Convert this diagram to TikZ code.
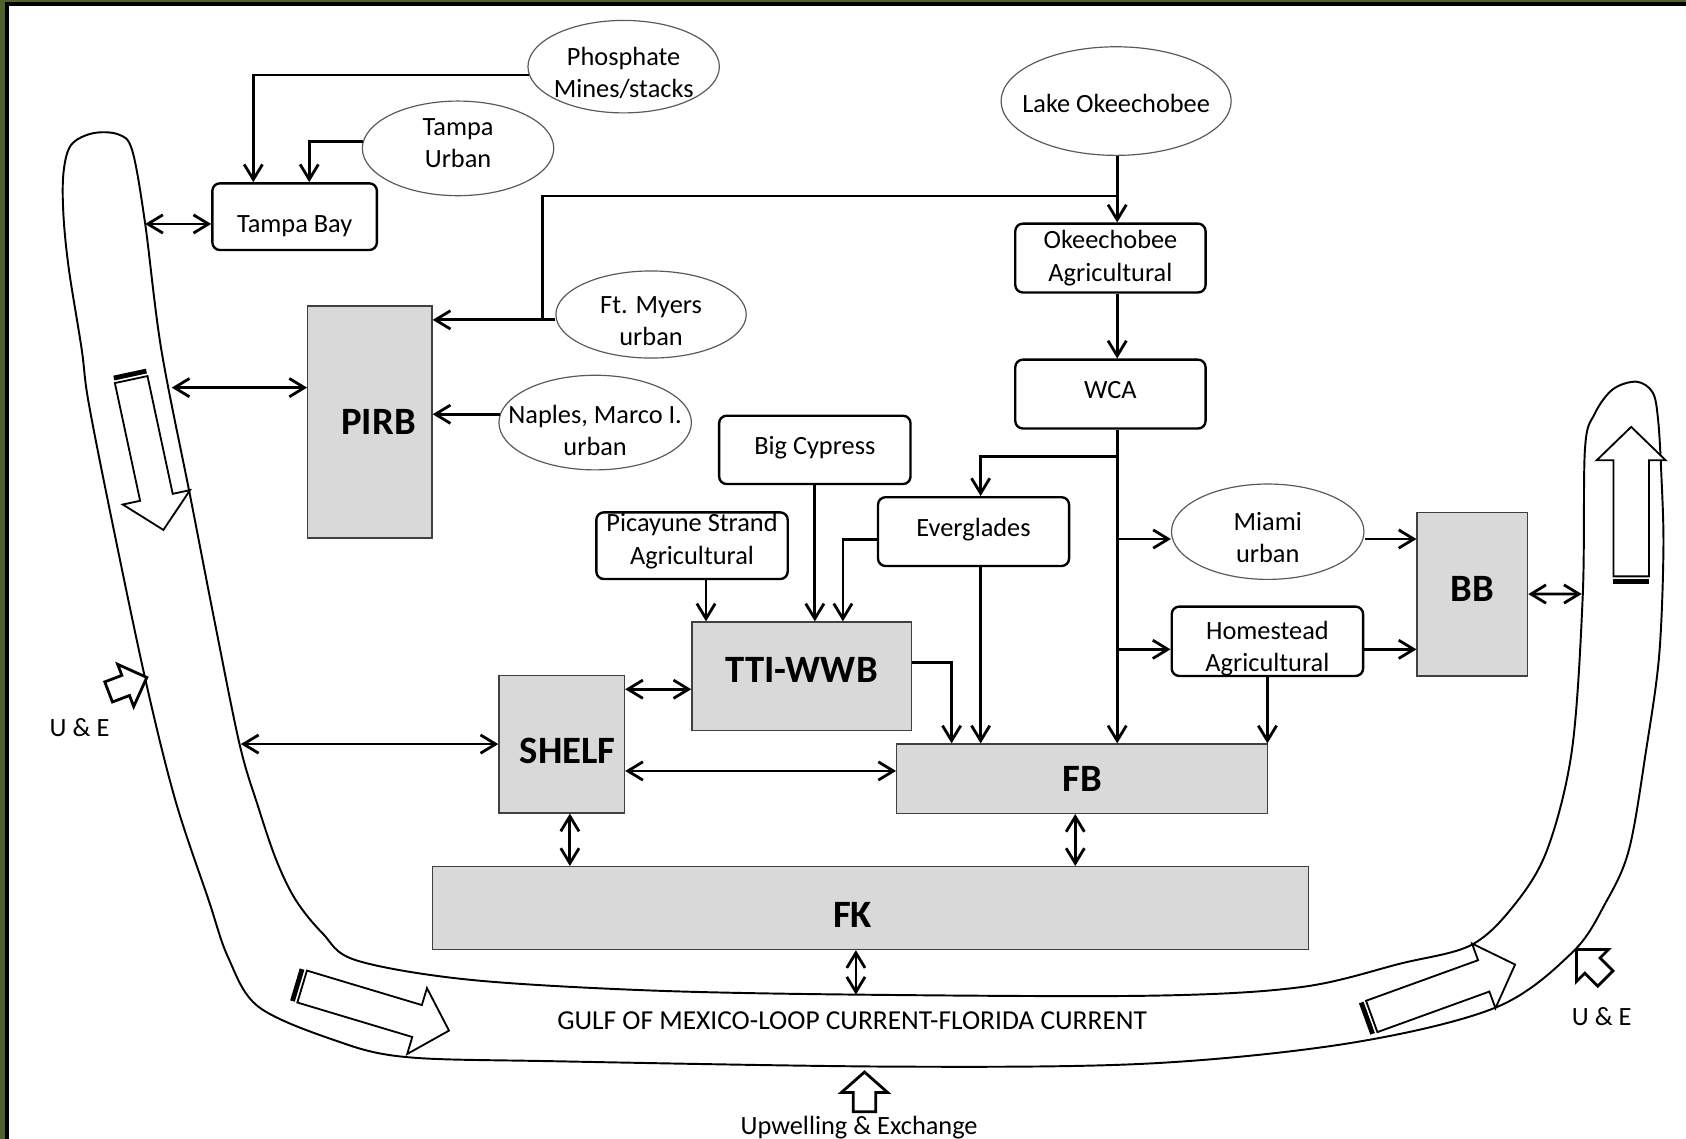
\documentclass[tikz,border=0pt]{standalone}
\usepackage{fontspec}
\setmainfont{Carlito}
\usetikzlibrary{arrows.meta,shapes.geometric}
\definecolor{frameolive}{RGB}{80,100,42}
\definecolor{zonegray}{RGB}{217,217,217}

\begin{document}
\begin{tikzpicture}[x=1pt,y=-1pt,line width=2.6,
        >={Straight Barb[length=14pt,width=17pt]},
        every node/.style={inner sep=0pt,align=center,font=\fontsize{24.5}{30}\selectfont},
        source/.style={ellipse,draw=black!65,line width=1.1,inner sep=-30pt},
        basin/.style={draw,rounded corners=7pt,line width=2.2},
        zone/.style={draw=black!75,fill=zonegray,line width=1.3,font=\fontsize{36}{40}\selectfont\bfseries},
        bandarrow/.style={fill=white,draw,line width=1.7},
        inarrow/.style={fill=white,draw,line width=2.6}]
  \useasboundingbox (0,0) rectangle (1568,1059);
  \fill[white] (0,0) rectangle (1568,1059);
  \fill[frameolive] (0,0) rectangle (4.7,1059);
  \fill[frameolive] (0,0) rectangle (1568,1.9);
  \fill (4.7,1.9) rectangle (8.4,1059);
  \fill (4.7,1.9) rectangle (1568,5.6);

  \draw[line width=1.8] plot[smooth cycle,tension=0.55] coordinates {(86,124) (110,125) (123,140)
    (135,208) (150,325) (177,462) (200,580) (223,693) (240,750) (257,800) (275,837) (300,868)
    (331,893) (435,911) (601,921) (796,925) (1070,926) (1210,918) (1303,896) (1368,879)
    (1408,842) (1439,790) (1462,697) (1472,553) (1474,418) (1483,385) (1500,362) (1522,355)
    (1537,365) (1542,390) (1545,440) (1547,511) (1543,610) (1531,697) (1515,790) (1493,840)
    (1462,886) (1391,937) (1256,970) (1070,989) (837,992) (518,987) (377,983) (310,967)
    (240,936) (212,890) (194,837) (163,744) (135,631) (102,474) (82,372) (76,325) (64,250)
    (59,200) (59,161) (66,135)};
  \coordinate (gTampa) at (135,208.3);
  \coordinate (gPIRB) at (159.7,360.5);
  \coordinate (gShelf) at (224,692);
  \coordinate (gFK) at (796,925);
  \coordinate (gBB) at (1471,552.4);

  \begin{scope}[shift={(122,353)},rotate=-77.9]
    \filldraw[bandarrow] (0,-15.5) -- (112,-15.5) -- (112,-32) -- (143,0) -- (112,32) -- (112,15.5) -- (0,15.5) -- cycle;
    \fill (-7,-15.5) rectangle (-2.5,15.5);
  \end{scope}
  \begin{scope}[shift={(281,917.5)},rotate=-16.7]
    \filldraw[bandarrow] (0,-15.5) -- (111.6,-15.5) -- (111.6,-32) -- (142.6,0) -- (111.6,32) -- (111.6,15.5) -- (0,15.5) -- cycle;
    \fill (-7,-15.5) rectangle (-2.5,15.5);
  \end{scope}
  \begin{scope}[shift={(1275.7,945.3)},rotate=19.9]
    \filldraw[bandarrow] (0,-15.5) -- (110.8,-15.5) -- (110.8,-32) -- (141.8,0) -- (110.8,32) -- (110.8,15.5) -- (0,15.5) -- cycle;
    \fill (-7,-15.5) rectangle (-2.5,15.5);
  \end{scope}
  \begin{scope}[shift={(1517,536)},rotate=90]
    \filldraw[bandarrow] (0,-16.5) -- (108,-16.5) -- (108,-32) -- (139,0) -- (108,32) -- (108,16.5) -- (0,16.5) -- cycle;
    \fill (-7,-16.5) rectangle (-2.5,16.5);
  \end{scope}
  \begin{scope}[shift={(101,643.5)},rotate=20.8]
    \filldraw[inarrow] (0,-10) -- (17,-10) -- (17,-21) -- (38,0) -- (17,21) -- (17,10) -- (0,10) -- cycle;
  \end{scope}
  \begin{scope}[shift={(1493,910)},rotate=135]
    \filldraw[inarrow] (0,-10) -- (17,-10) -- (17,-21) -- (38,0) -- (17,21) -- (17,10) -- (0,10) -- cycle;
  \end{scope}
  \begin{scope}[shift={(804,1034)},rotate=90]
    \filldraw[inarrow] (0,-10.5) -- (18,-10.5) -- (18,-21.5) -- (37,0) -- (18,21.5) -- (18,10.5) -- (0,10.5) -- cycle;
  \end{scope}

  \node[source,minimum width=178,minimum height=86] (phos) at (580,62) {\rule{0pt}{28pt}Phosphate\\Mines/stacks};
  \node[source,minimum width=178,minimum height=88] (turban) at (426,138) {Tampa\\Urban\rule[-10pt]{0pt}{10pt}};
  \node[basin,minimum width=153,minimum height=62] (tampa) at (274,201.5) {\rule{0pt}{34pt}Tampa Bay};
  \node[source,minimum width=214,minimum height=101] (lake) at (1038,94) {\rule{0pt}{22pt}Lake Okeechobee};
  \node[basin,minimum width=177,minimum height=64] (okag) at (1032.7,240) {Okeechobee\\Agricultural};
  \node[basin,minimum width=177,minimum height=64] (wca) at (1032.7,366.5) {WCA\rule[-8pt]{0pt}{8pt}};
  \node[zone,minimum width=115.5,minimum height=216] (pirb) at (344,392.5) {\hspace*{16pt}PIRB};
  \node[source,minimum width=177,minimum height=81] (myers) at (605.5,292.5) {\rule{0pt}{28pt}Ft. Myers\\urban};
  \node[source,minimum width=179,minimum height=88] (naples) at (553.5,393) {\rule{0pt}{32pt}Naples, Marco I.\\urban};
  \node[basin,minimum width=178,minimum height=63.5] (bigc) at (757.8,418.4) {Big Cypress\rule[-8pt]{0pt}{8pt}};
  \node[basin,minimum width=178,minimum height=62] (pica) at (643.6,507.5) {Picayune Strand\\Agricultural\rule[-12.7pt]{0pt}{12.7pt}};
  \node[basin,minimum width=177.7,minimum height=64] (ever) at (905.4,494.4) {Everglades\rule[-8pt]{0pt}{8pt}};
  \node[zone,minimum width=204,minimum height=101] (tti) at (745.5,629) {TTI-WWB\rule[-12pt]{0pt}{12pt}};
  \node[source,minimum width=179,minimum height=88.7] (miami) at (1179,494.5) {\rule{0pt}{28pt}Miami\\urban};
  \node[basin,minimum width=178,minimum height=64.5] (home) at (1178.7,596.4) {\rule{0pt}{30pt}Homestead\\Agricultural};
  \node[zone,minimum width=102.7,minimum height=152] (bb) at (1369.3,552.5) {BB\rule[-10pt]{0pt}{10pt}};
  \node[zone,minimum width=116.7,minimum height=128] (shelf) at (522.4,692) {\rule{0pt}{37pt}\hspace*{11pt}SHELF};
  \node[zone,minimum width=345,minimum height=64.4] (fb) at (1006.5,724.2) {FB};
  \node[zone,minimum width=815,minimum height=77] (fk) at (809.5,844.5) {\rule{0pt}{37pt}\hspace*{-33pt}FK};

  \node (ueleft) at (74,677) {U \& E};
  \node (ueright) at (1489.6,945) {U \& E};
  \node[font=\fontsize{25.5}{30}\selectfont] (gulf) at (792.5,949) {GULF OF MEXICO-LOOP CURRENT-FLORIDA CURRENT};
  \node (upwell) at (799,1049) {Upwelling \& Exchange};

  \coordinate (jLake) at (1039,182.3);
  \coordinate (jMyers) at (504.7,297.5);
  \coordinate (spine) at ([xshift=6.3]wca.south);
  \coordinate (jEver) at (1039,424.7);
  \coordinate (jMiami) at (1039,501.3);
  \coordinate (jHome) at (1039,603.9);
  \coordinate (jShelf) at ([yshift=-12]tti.west);
  \coordinate (jFB) at ([yshift=7.2]fb.west);

  \draw[->] (phos.185) -| ([xshift=-38.4]tampa.north);
  \draw[->] (turban.176) -| ([xshift=13.6]tampa.north);
  \draw[<->] (gTampa) -- (gTampa -| tampa.west);
  \draw[->] ([xshift=1]lake.south) -- ([xshift=6.3]okag.north);
  \draw[->] (jLake) -| (jMyers) -- (jMyers -| pirb.east);
  \draw (myers.west |- jMyers) -- (jMyers);
  \draw[<->] (gPIRB) -- (gPIRB -| pirb.west);
  \draw[->] (naples.175.5) -- (naples.175.5 -| pirb.east);
  \draw[->] ([xshift=6.3]okag.south) -- ([xshift=6.3]wca.north);
  \draw[->] (spine) -- (spine |- fb.north);
  \draw[->] (jEver) -| ([xshift=6.6]ever.north);
  \draw[->] (jMiami) -- (jMiami -| miami.west);
  \draw[->] (jMiami -| miami.east) -- (jMiami -| bb.west);
  \draw[->] (jHome) -- (jHome -| home.west);
  \draw[->] (jHome -| home.east) -- (jHome -| bb.west);
  \draw[->] (home.south) -- (home.south |- fb.north);
  \draw[<->] (bb.east) -- (gBB);
  \draw[->] (bigc.south) -- (bigc.south |- tti.north);
  \draw[->] ([xshift=13]pica.south) -- ([xshift=13]pica.south |- tti.north);
  \draw[->] ([yshift=-7.2]ever.west) -| ([xshift=38.4]tti.north);
  \draw[->] ([xshift=6.6]ever.south) -- ([xshift=6.6]ever.south |- fb.north);
  \draw[->] ([yshift=12.7]tti.east) -| ([xshift=-121.5]fb.north);
  \draw[<->] (jShelf -| shelf.east) -- (jShelf);
  \draw[<->] (gShelf) -- (shelf.west);
  \draw[<->] (jFB -| shelf.east) -- (jFB);
  \draw[<->] ([xshift=7.6]shelf.south) -- ([xshift=7.6]shelf.south |- fk.north);
  \draw[<->] ([xshift=-6.5]fb.south) -- ([xshift=-6.5]fb.south |- fk.north);
  \draw[<->] (gFK |- fk.south) -- (gFK);
\end{tikzpicture}
\end{document}
